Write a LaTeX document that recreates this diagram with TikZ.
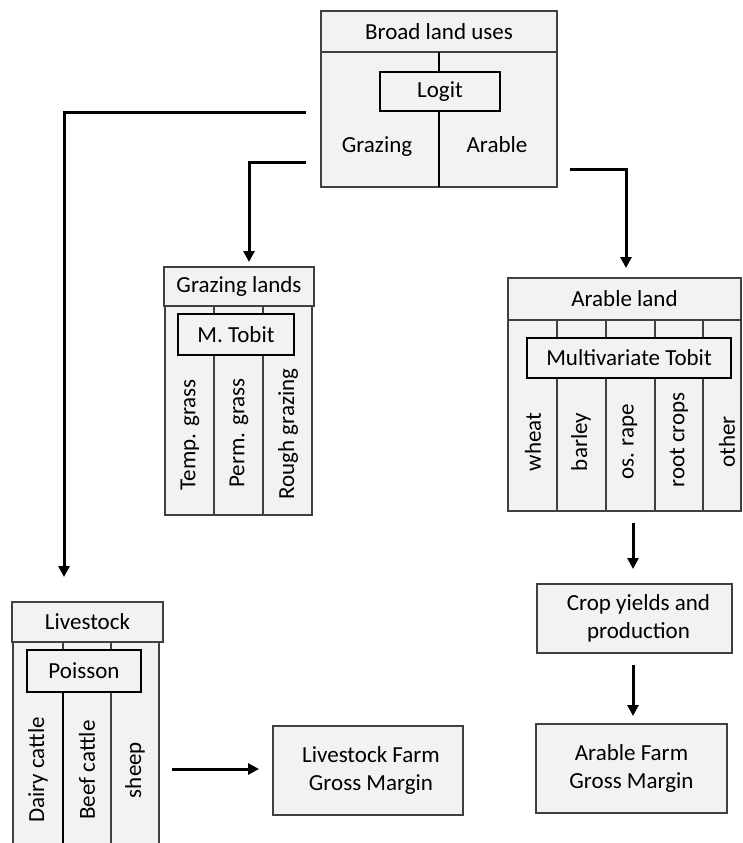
\documentclass[tikz,border=0pt]{standalone}
\usepackage{fontspec}
\setmainfont{Carlito}
\usetikzlibrary{arrows.meta}
\definecolor{boxfill}{HTML}{F2F2F2}
\definecolor{boxline}{HTML}{404040}
\newcommand{\dfont}{\fontsize{23}{28}\selectfont}
\tikzset{
  box/.style={draw=boxline, fill=boxfill, line width=1.2pt, inner sep=0pt, outer sep=0pt, anchor=north west, align=center, font=\dfont},
  model/.style={draw=black, fill=boxfill, line width=2.4pt, inner sep=0pt, outer sep=0pt, anchor=north west, font=\dfont},
  lbl/.style={inner sep=0pt, anchor=base, font=\dfont},
  mlbl/.style={inner sep=0pt, align=center, font=\dfont},
  vlbl/.style={inner sep=0pt, rotate=90, font=\dfont},
  arr/.style={line width=3pt, -{Triangle[width=11pt,length=11pt]}},
  div/.style={draw=black, line width=2.4pt},
}
\begin{document}
\begin{tikzpicture}[x=1pt,y=-1pt]
\useasboundingbox (0,0) rectangle (742,843);
\clip (0,0) rectangle (742,843);
\fill[white] (0,0) rectangle (742,843);

% ---------------- Broad land uses
\node[box, minimum width=236pt, minimum height=135pt] (blu) at (321,52) {};
\node[box, minimum width=236pt, minimum height=41pt] (blut) at (321,11) {Broad land uses};
\node[model, minimum width=120pt, minimum height=39pt] (logit) at (380,72) {Logit};
\draw[div] (blut.south -| 439,0) -- (logit.north -| 439,0);
\draw[div] (logit.south -| 439,0) -- (blu.south -| 439,0);
\node[lbl] (graz) at (377,152) {Grazing};
\node[lbl] (arab) at (497,152) {Arable};

% ---------------- Grazing lands
\node[box, minimum width=49pt, minimum height=209pt] (gc1) at (165,306) {};
\node[box, minimum width=49pt, minimum height=209pt] (gc2) at (214,306) {};
\node[box, minimum width=49pt, minimum height=209pt] (gc3) at (263,306) {};
\node[box, minimum width=150pt, minimum height=39pt] (glt) at (164,267) {Grazing lands};
\node[model, minimum width=116pt, minimum height=41pt] (mtobit) at (178,314) {M. Tobit};
\node[vlbl] (tg) at (190,435) {Temp. grass};
\node[vlbl] (pg) at (239,433) {Perm. grass};
\node[vlbl] (rg) at (288,434) {Rough grazing};

% ---------------- Arable land
\node[box, minimum width=49pt, minimum height=191pt] (ac1) at (508,320) {};
\node[box, minimum width=49pt, minimum height=191pt] (ac2) at (557,320) {};
\node[box, minimum width=49pt, minimum height=191pt] (ac3) at (606,320) {};
\node[box, minimum width=48pt, minimum height=191pt] (ac4) at (655,320) {};
\node[box, minimum width=38pt, minimum height=191pt] (ac5) at (703,320) {};
\node[box, minimum width=233pt, minimum height=42pt] (alt) at (508,278) {Arable land};
\node[model, minimum width=204pt, minimum height=40pt] (mvt) at (527,338) {Multivariate Tobit};
\node[vlbl] (wh) at (533,442) {wheat};
\node[vlbl] (ba) at (581,442) {barley};
\node[vlbl] (os) at (630,442) {os. rape};
\node[vlbl] (rc) at (679,440) {root crops};
\node[vlbl] (ot) at (727,442) {other};

% ---------------- Livestock
\node[box, minimum width=50pt, minimum height=210pt] (lc1) at (13,642) {};
\node[box, minimum width=48pt, minimum height=210pt] (lc2) at (63,642) {};
\node[box, minimum width=48pt, minimum height=210pt] (lc3) at (111,642) {};
\node[box, minimum width=151pt, minimum height=40pt] (lst) at (12,602) {Livestock};
\node[model, minimum width=114pt, minimum height=42pt] (pois) at (27,650) {Poisson};
\draw[div] (pois.south -| 63,0) -- (63,850);
\node[vlbl] (dc) at (38,770) {Dairy cattle};
\node[vlbl] (bc) at (87,770) {Beef cattle};
\node[vlbl] (sh) at (135,770) {sheep};

% ---------------- Output boxes
\node[box, minimum width=190pt, minimum height=89pt] (lfgm) at (273,726) {};
\node[mlbl] (lfgmt) at ([xshift=3pt]lfgm.center) {Livestock Farm\\Gross Margin};
\node[box, minimum width=195pt, minimum height=69pt] (cyp) at (537,584) {};
\node[mlbl] (cypt) at ([xshift=4pt]cyp.center) {Crop yields and\\production};
\node[box, minimum width=191pt, minimum height=89pt] (afgm) at (536,724) {Arable Farm\\Gross Margin};

% ---------------- Connectors
\coordinate (s1) at (306,112);
\coordinate (e1) at (64,577);
\coordinate (s2) at (306,162);
\coordinate (e2) at (249,262);
\coordinate (s3) at (570,169);
\coordinate (e3) at (626,268);
\coordinate (s4) at (172,769);
\coordinate (e4) at (259,769);
\coordinate (s5) at (633,523);
\coordinate (e5) at (633,569);
\coordinate (s6) at (633,665);
\coordinate (e6) at (633,716);
\draw[arr] (s1) -| (e1);
\draw[arr] (s2) -| (e2);
\draw[arr] (s3) -| (e3);
\draw[arr] (s4) -- (e4);
\draw[arr] (s5) -- (e5);
\draw[arr] (s6) -- (e6);
\end{tikzpicture}
\end{document}
